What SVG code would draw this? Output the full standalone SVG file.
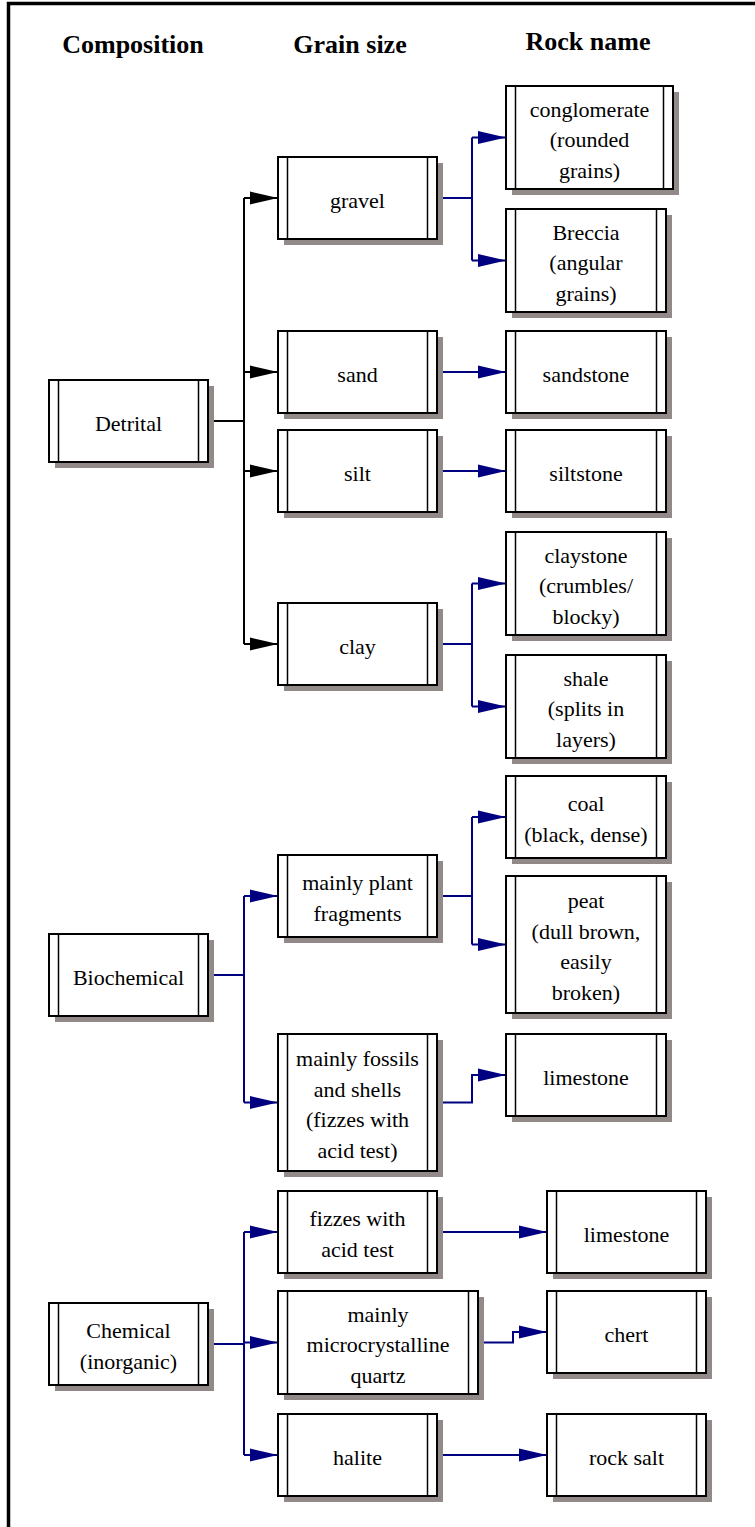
<svg xmlns="http://www.w3.org/2000/svg" width="755" height="1527" viewBox="0 0 755 1527">
<style>
.sh{fill:#928989;stroke:none}
.bx{fill:#fff;stroke:#000;stroke-width:2}
.in{stroke:#000;stroke-width:1.5}
.t{font-family:'Liberation Serif','Times New Roman',serif;font-size:22px;fill:#000;text-anchor:middle}
.h{font-family:'Liberation Serif','Times New Roman',serif;font-size:26px;font-weight:bold;fill:#000;text-anchor:middle}
.cb{fill:none;stroke:#000;stroke-width:2}
.cn{fill:none;stroke:#000080;stroke-width:2}
</style>
<defs>
<marker id="ab" markerUnits="userSpaceOnUse" markerWidth="28" markerHeight="14" refX="28" refY="7" orient="auto" viewBox="0 0 28 14"><path d="M0,0.5 L28,7 L0,13.5 z" fill="#000"/></marker>
<marker id="an" markerUnits="userSpaceOnUse" markerWidth="28" markerHeight="14" refX="28" refY="7" orient="auto" viewBox="0 0 28 14"><path d="M0,0.5 L28,7 L0,13.5 z" fill="#000080"/></marker>
</defs>
<rect width="755" height="1527" fill="#fff"/>
<path d="M8.5,1527 V3.5 H755" fill="none" stroke="#000" stroke-width="3.5"/>
<g id="headers">
<text class="h" x="133" y="53">Composition</text>
<text class="h" x="350" y="53">Grain size</text>
<text class="h" x="588" y="50">Rock name</text>
</g>
<g id="connectors">
<path class="cb" d="M208,421 H244 M244,198 V644"/>
<path class="cb" d="M244,198 H278" marker-end="url(#ab)"/>
<path class="cb" d="M244,372 H278" marker-end="url(#ab)"/>
<path class="cb" d="M244,471 H278" marker-end="url(#ab)"/>
<path class="cb" d="M244,644 H278" marker-end="url(#ab)"/>
<path class="cn" d="M437,198 H472 M472,137.5 V260.5"/>
<path class="cn" d="M472,137.5 H506" marker-end="url(#an)"/>
<path class="cn" d="M472,260.5 H506" marker-end="url(#an)"/>
<path class="cn" d="M437,372 H506" marker-end="url(#an)"/>
<path class="cn" d="M437,471 H506" marker-end="url(#an)"/>
<path class="cn" d="M437,644 H472 M472,583.5 V706.5"/>
<path class="cn" d="M472,583.5 H506" marker-end="url(#an)"/>
<path class="cn" d="M472,706.5 H506" marker-end="url(#an)"/>
<path class="cn" d="M208,975 H244 M244,896 V1102.5"/>
<path class="cn" d="M244,896 H278" marker-end="url(#an)"/>
<path class="cn" d="M244,1102.5 H278" marker-end="url(#an)"/>
<path class="cn" d="M437,896 H472 M472,817 V944.5"/>
<path class="cn" d="M472,817 H506" marker-end="url(#an)"/>
<path class="cn" d="M472,944.5 H506" marker-end="url(#an)"/>
<path class="cn" d="M437,1102.5 H472 V1075 H506" marker-end="url(#an)"/>
<path class="cn" d="M208,1344 H244 M244,1232 V1455"/>
<path class="cn" d="M244,1232 H278" marker-end="url(#an)"/>
<path class="cn" d="M244,1342.5 H278" marker-end="url(#an)"/>
<path class="cn" d="M244,1455 H278" marker-end="url(#an)"/>
<path class="cn" d="M437,1232 H547" marker-end="url(#an)"/>
<path class="cn" d="M478,1342.5 H513 V1332 H547" marker-end="url(#an)"/>
<path class="cn" d="M437,1455 H547" marker-end="url(#an)"/>
</g>
<g id="detrital"><rect class="sh" x="55" y="386" width="159" height="82"/><rect class="bx" x="49" y="380" width="159" height="82"/><path class="in" d="M58.5,380 V462 M198.5,380 V462"/><text class="t" x="128.5" y="431">Detrital</text></g>
<g id="gravel"><rect class="sh" x="284" y="163" width="159" height="82"/><rect class="bx" x="278" y="157" width="159" height="82"/><path class="in" d="M287.5,157 V239 M427.5,157 V239"/><text class="t" x="357.5" y="208">gravel</text></g>
<g id="sand"><rect class="sh" x="284" y="337" width="159" height="82"/><rect class="bx" x="278" y="331" width="159" height="82"/><path class="in" d="M287.5,331 V413 M427.5,331 V413"/><text class="t" x="357.5" y="382">sand</text></g>
<g id="silt"><rect class="sh" x="284" y="436" width="159" height="82"/><rect class="bx" x="278" y="430" width="159" height="82"/><path class="in" d="M287.5,430 V512 M427.5,430 V512"/><text class="t" x="357.5" y="481">silt</text></g>
<g id="clay"><rect class="sh" x="284" y="609" width="159" height="82"/><rect class="bx" x="278" y="603" width="159" height="82"/><path class="in" d="M287.5,603 V685 M427.5,603 V685"/><text class="t" x="357.5" y="654">clay</text></g>
<g id="conglomerate"><rect class="sh" x="512" y="92" width="167" height="103"/><rect class="bx" x="506" y="86" width="167" height="103"/><path class="in" d="M515.5,86 V189 M663.5,86 V189"/><text class="t" x="589.5" y="116.5">conglomerate</text><text class="t" x="589.5" y="147">(rounded</text><text class="t" x="589.5" y="177.5">grains)</text></g>
<g id="breccia"><rect class="sh" x="512" y="215" width="160" height="103"/><rect class="bx" x="506" y="209" width="160" height="103"/><path class="in" d="M515.5,209 V312 M656.5,209 V312"/><text class="t" x="586" y="239.5">Breccia</text><text class="t" x="586" y="270">(angular</text><text class="t" x="586" y="300.5">grains)</text></g>
<g id="sandstone"><rect class="sh" x="512" y="337" width="160" height="82"/><rect class="bx" x="506" y="331" width="160" height="82"/><path class="in" d="M515.5,331 V413 M656.5,331 V413"/><text class="t" x="586" y="382">sandstone</text></g>
<g id="siltstone"><rect class="sh" x="512" y="436" width="160" height="82"/><rect class="bx" x="506" y="430" width="160" height="82"/><path class="in" d="M515.5,430 V512 M656.5,430 V512"/><text class="t" x="586" y="481">siltstone</text></g>
<g id="claystone"><rect class="sh" x="512" y="538" width="160" height="103"/><rect class="bx" x="506" y="532" width="160" height="103"/><path class="in" d="M515.5,532 V635 M656.5,532 V635"/><text class="t" x="586" y="562.5">claystone</text><text class="t" x="586" y="593">(crumbles/</text><text class="t" x="586" y="623.5">blocky)</text></g>
<g id="shale"><rect class="sh" x="512" y="661" width="160" height="103"/><rect class="bx" x="506" y="655" width="160" height="103"/><path class="in" d="M515.5,655 V758 M656.5,655 V758"/><text class="t" x="586" y="685.5">shale</text><text class="t" x="586" y="716">(splits in</text><text class="t" x="586" y="746.5">layers)</text></g>
<g id="biochemical"><rect class="sh" x="55" y="940" width="159" height="82"/><rect class="bx" x="49" y="934" width="159" height="82"/><path class="in" d="M58.5,934 V1016 M198.5,934 V1016"/><text class="t" x="128.5" y="985">Biochemical</text></g>
<g id="plant"><rect class="sh" x="284" y="861" width="159" height="82"/><rect class="bx" x="278" y="855" width="159" height="82"/><path class="in" d="M287.5,855 V937 M427.5,855 V937"/><text class="t" x="357.5" y="890">mainly plant</text><text class="t" x="357.5" y="920.5">fragments</text></g>
<g id="fossils"><rect class="sh" x="284" y="1040" width="159" height="137"/><rect class="bx" x="278" y="1034" width="159" height="137"/><path class="in" d="M287.5,1034 V1171 M427.5,1034 V1171"/><text class="t" x="357.5" y="1066.25">mainly fossils</text><text class="t" x="357.5" y="1096.75">and shells</text><text class="t" x="357.5" y="1127.25">(fizzes with</text><text class="t" x="357.5" y="1157.75">acid test)</text></g>
<g id="coal"><rect class="sh" x="512" y="782" width="160" height="82"/><rect class="bx" x="506" y="776" width="160" height="82"/><path class="in" d="M515.5,776 V858 M656.5,776 V858"/><text class="t" x="586" y="811">coal</text><text class="t" x="586" y="841.5">(black, dense)</text></g>
<g id="peat"><rect class="sh" x="512" y="882" width="160" height="137"/><rect class="bx" x="506" y="876" width="160" height="137"/><path class="in" d="M515.5,876 V1013 M656.5,876 V1013"/><text class="t" x="586" y="908.25">peat</text><text class="t" x="586" y="938.75">(dull brown,</text><text class="t" x="586" y="969.25">easily</text><text class="t" x="586" y="999.75">broken)</text></g>
<g id="limestone-bio"><rect class="sh" x="512" y="1040" width="160" height="82"/><rect class="bx" x="506" y="1034" width="160" height="82"/><path class="in" d="M515.5,1034 V1116 M656.5,1034 V1116"/><text class="t" x="586" y="1085">limestone</text></g>
<g id="chemical"><rect class="sh" x="55" y="1309" width="159" height="82"/><rect class="bx" x="49" y="1303" width="159" height="82"/><path class="in" d="M58.5,1303 V1385 M198.5,1303 V1385"/><text class="t" x="128.5" y="1338">Chemical</text><text class="t" x="128.5" y="1368.5">(inorganic)</text></g>
<g id="fizzes"><rect class="sh" x="284" y="1197" width="159" height="82"/><rect class="bx" x="278" y="1191" width="159" height="82"/><path class="in" d="M287.5,1191 V1273 M427.5,1191 V1273"/><text class="t" x="357.5" y="1226">fizzes with</text><text class="t" x="357.5" y="1256.5">acid test</text></g>
<g id="quartz"><rect class="sh" x="284" y="1297" width="200" height="103"/><rect class="bx" x="278" y="1291" width="200" height="103"/><path class="in" d="M287.5,1291 V1394 M468.5,1291 V1394"/><text class="t" x="378" y="1321.5">mainly</text><text class="t" x="378" y="1352">microcrystalline</text><text class="t" x="378" y="1382.5">quartz</text></g>
<g id="halite"><rect class="sh" x="284" y="1420" width="159" height="82"/><rect class="bx" x="278" y="1414" width="159" height="82"/><path class="in" d="M287.5,1414 V1496 M427.5,1414 V1496"/><text class="t" x="357.5" y="1465">halite</text></g>
<g id="limestone-chem"><rect class="sh" x="553" y="1197" width="159" height="82"/><rect class="bx" x="547" y="1191" width="159" height="82"/><path class="in" d="M556.5,1191 V1273 M696.5,1191 V1273"/><text class="t" x="626.5" y="1242">limestone</text></g>
<g id="chert"><rect class="sh" x="553" y="1297" width="159" height="82"/><rect class="bx" x="547" y="1291" width="159" height="82"/><path class="in" d="M556.5,1291 V1373 M696.5,1291 V1373"/><text class="t" x="626.5" y="1342">chert</text></g>
<g id="rocksalt"><rect class="sh" x="553" y="1420" width="159" height="82"/><rect class="bx" x="547" y="1414" width="159" height="82"/><path class="in" d="M556.5,1414 V1496 M696.5,1414 V1496"/><text class="t" x="626.5" y="1465">rock salt</text></g>
</svg>
